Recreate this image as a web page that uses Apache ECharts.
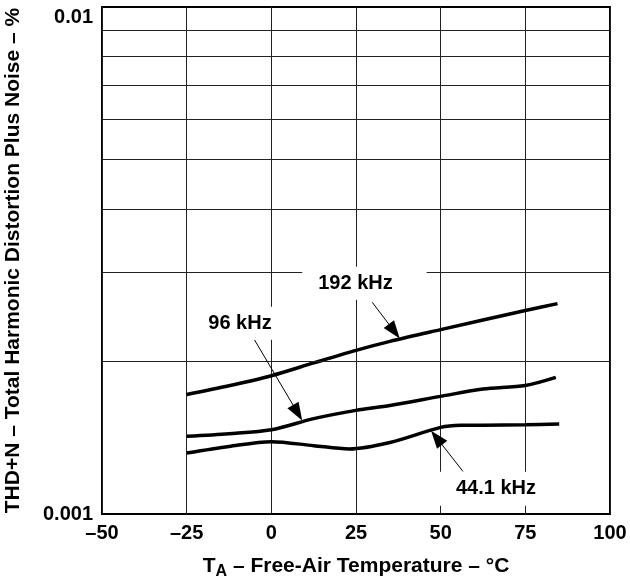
<!DOCTYPE html>
<html>
<head>
<meta charset="utf-8">
<script src="https://cdn.jsdelivr.net/npm/echarts@6/dist/echarts.min.js"></script>
<style>
  html, body { margin: 0; padding: 0; background: #fff; }
  #chart { width: 630px; height: 579px; }
</style>
</head>
<body>
<div id="chart"></div>
<script>
// curve data (temperature in °C, THD+N in %)
const temps192 = [-25, -12.5, 0, 12.5, 25, 35, 50, 75, 84.5]
const thd192 = [0.00172, 0.00179, 0.001874, 0.001986, 0.002102, 0.00219, 0.00231, 0.00252, 0.0026]

const temps96 = [-25, -12.5, 0, 12.5, 25, 35, 50, 62.5, 75, 84]
const thd96 = [0.001423, 0.00144, 0.001466, 0.001542, 0.001601, 0.001637, 0.001706, 0.001764, 0.001793, 0.00186]

const temps44 = [-25, -12.5, 0, 12.5, 23, 35, 50, 56, 62.5, 75, 85]
const thd44 = [0.001319, 0.001359, 0.001389, 0.001364, 0.001344, 0.001384, 0.001482, 0.001496, 0.001497, 0.0015, 0.001505]

// minor log gridlines
const minorGrid = [0.002, 0.003, 0.004, 0.005, 0.006, 0.007, 0.008, 0.009]
const xMin = -50
const xMax = 100

// curve labels (data coordinates of the label box centre)
const labelNames = ['192 kHz', '96 kHz', '44.1 kHz']
const labelX = [27.5, -9.25, 64.85]
const labelY = [0.002853, 0.002379, 0.001122]

// arrows: start point and arrow-head centre, in data coordinates
const arrowFromX = [29.8, -5.0, 56.6]
const arrowFromY = [0.002615, 0.002207, 0.001213]
const arrowToX = [36.3, 7.75, 48.8]
const arrowToY = [0.002293, 0.001584, 0.001414]

const FONT = '"Liberation Sans", Arial, Helvetica, sans-serif'
const labelPadding = [[7, 34, 6, 16], [7, 13, 6, 13], [7, 10, 7, 20]]

const pairs = (xs, ys) => xs.map((x, i) => [x, ys[i]])

const curve = (name, xs, ys) => ({
  name,
  type: 'line',
  smooth: 0.3,
  showSymbol: false,
  z: 3,
  lineStyle: { color: '#000', width: 3.5 },
  data: pairs(xs, ys)
})

const chart = echarts.init(document.getElementById('chart'))

chart.setOption({
  animation: false,
  textStyle: { fontFamily: FONT },
  grid: {
    left: 102,
    right: 20,
    top: 7,
    bottom: 65,
    outerBoundsMode: 'none',
    containLabel: false,
    show: true,
    borderColor: '#000',
    borderWidth: 2
  },
  xAxis: {
    type: 'value',
    min: xMin,
    max: xMax,
    interval: 25,
    axisLine: { show: false },
    axisTick: { show: false },
    splitLine: { lineStyle: { color: '#222', width: 1 } },
    axisLabel: {
      margin: 9,
      color: '#000',
      fontWeight: 'bold',
      fontSize: 20,
      fontFamily: FONT,
      formatter: (v) => (v < 0 ? '\u2013' + Math.abs(v) : String(v))
    },
    name: '{t|T}{s|A}{t| \u2013 Free-Air Temperature \u2013 \u00b0C}',
    nameLocation: 'middle',
    nameGap: 39,
    nameTextStyle: {
      rich: {
        t: { fontSize: 21, fontWeight: 'bold', color: '#000', fontFamily: FONT },
        s: { fontSize: 16, fontWeight: 'bold', color: '#000', fontFamily: FONT, padding: [11, 0, 0, 0] }
      }
    }
  },
  yAxis: {
    type: 'log',
    logBase: 10,
    min: 0.001,
    max: 0.01,
    axisLine: { show: false },
    axisTick: { show: false },
    splitLine: { show: false },
    axisLabel: {
      margin: 9,
      color: '#000',
      fontWeight: 'bold',
      fontSize: 20,
      fontFamily: FONT,
      formatter: (v) => (v > 0.005 ? '{top|0.01}' : '0.001'),
      rich: {
        top: { fontSize: 20, fontWeight: 'bold', color: '#000', fontFamily: FONT, padding: [20, 0, 0, 0] }
      }
    },
    name: 'THD+N \u2013 Total Harmonic Distortion Plus Noise \u2013 %',
    nameLocation: 'middle',
    nameGap: 78,
    nameTextStyle: { fontSize: 21, fontWeight: 'bold', color: '#000', fontFamily: FONT }
  },
  series: [
    {
      name: 'grid',
      type: 'line',
      data: [],
      z: 1,
      silent: true,
      markLine: {
        silent: true,
        symbol: 'none',
        label: { show: false },
        lineStyle: { color: '#222', width: 1, type: 'solid' },
        data: minorGrid.map((v) => [{ coord: [xMin, v] }, { coord: [xMax, v] }])
      }
    },
    curve('192 kHz', temps192, thd192),
    curve('96 kHz', temps96, thd96),
    curve('44.1 kHz', temps44, thd44),
    {
      name: 'arrows',
      type: 'line',
      data: [],
      z: 4,
      silent: true,
      markLine: {
        silent: true,
        symbol: ['none', 'triangle'],
        symbolSize: [13, 18],
        label: { show: false },
        lineStyle: { color: '#000', width: 1, type: 'solid' },
        itemStyle: { color: '#000' },
        data: arrowFromX.map((x, i) => [
          { coord: [x, arrowFromY[i]] },
          { coord: [arrowToX[i], arrowToY[i]] }
        ])
      }
    },
    {
      name: 'labels',
      type: 'scatter',
      z: 10,
      silent: true,
      symbolSize: 0,
      itemStyle: { opacity: 1 },
      data: labelNames.map((n, i) => ({
        value: [labelX[i], labelY[i]],
        label: {
          show: true,
          position: 'inside',
          formatter: n,
          padding: labelPadding[i],
          backgroundColor: '#fff',
          color: '#000',
          opacity: 1,
          fontSize: 20,
          fontWeight: 'bold',
          fontFamily: FONT
        }
      }))
    }
  ]
})
</script>
</body>
</html>
